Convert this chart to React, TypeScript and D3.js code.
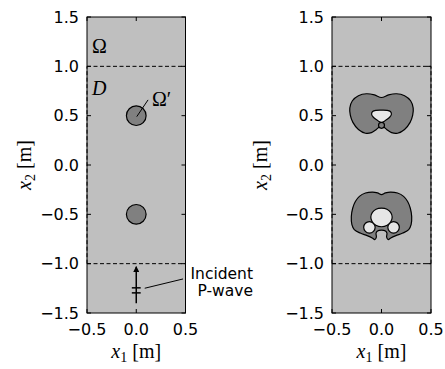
import React from "react";
import * as d3 from "d3";

const W = 445;
const H = 369;

const xTicks = [-0.5, 0.0, 0.5];
const yTicks = [-1.5, -1.0, -0.5, 0.0, 0.5, 1.0, 1.5];
const xDomain: [number, number] = [-0.5, 0.5];
const yDomain: [number, number] = [-1.5, 1.5];
const boundaryY = [-1.0, 1.0];

// left panel: true scatterers (circles)
const circleCenters: [number, number][] = [[0, 0.5], [0, -0.5]];
const circleRadius = 0.1;

// right panel: reconstructed shapes
const upperOuter: [number, number][] = [
  [0, 0.684], [-0.071, 0.710], [-0.152, 0.722], [-0.233, 0.702], [-0.294, 0.651],
  [-0.320, 0.578], [-0.315, 0.505], [-0.289, 0.432], [-0.233, 0.360], [-0.162, 0.322],
  [-0.102, 0.328], [-0.055, 0.358], [-0.022, 0.386], [0, 0.392], [0.022, 0.386],
  [0.055, 0.358], [0.102, 0.328], [0.162, 0.322], [0.233, 0.360], [0.289, 0.432],
  [0.315, 0.505], [0.320, 0.578], [0.294, 0.651], [0.233, 0.702], [0.152, 0.722],
  [0.071, 0.710],
];
const upperHole: [number, number][] = [
  [0, 0.556], [-0.055, 0.554], [-0.090, 0.542], [-0.100, 0.515], [-0.082, 0.484],
  [-0.045, 0.455], [-0.015, 0.435], [0, 0.430], [0.015, 0.435], [0.045, 0.455],
  [0.082, 0.484], [0.100, 0.515], [0.090, 0.542], [0.055, 0.554],
];
const upperDot: [number, number, number] = [0, 0.402, 0.03];

const lowerOuter: [number, number][] = [
  [0, -0.300], [-0.040, -0.283], [-0.090, -0.274], [-0.162, -0.284], [-0.223, -0.318],
  [-0.264, -0.370], [-0.291, -0.438], [-0.305, -0.523], [-0.299, -0.605], [-0.275, -0.655],
  [-0.215, -0.690], [-0.145, -0.716], [-0.094, -0.739], [-0.068, -0.756], [-0.052, -0.730],
  [-0.055, -0.690], [-0.040, -0.668], [0, -0.660], [0.040, -0.668], [0.055, -0.690],
  [0.052, -0.730], [0.068, -0.756], [0.094, -0.739], [0.145, -0.716], [0.215, -0.690],
  [0.275, -0.655], [0.299, -0.605], [0.305, -0.523], [0.291, -0.438], [0.264, -0.370],
  [0.223, -0.318], [0.162, -0.284], [0.090, -0.274], [0.040, -0.283],
];
const lowerHole: [number, number][] = [
  [0, -0.438], [-0.055, -0.448], [-0.092, -0.480], [-0.108, -0.526], [-0.095, -0.572],
  [-0.058, -0.610], [0, -0.626], [0.058, -0.610], [0.095, -0.572], [0.108, -0.526],
  [0.092, -0.480], [0.055, -0.448],
];
const lowerBulbs: [number, number, number][] = [[-0.122, -0.632, 0.058], [0.122, -0.632, 0.058]];

// incident wave annotation
const arrowTail: [number, number] = [0, -1.4];
const arrowTip: [number, number] = [0, -1.03];
const crossbarY = [-1.245, -1.296];
const crossbarHalf = 0.045;
const annotStart: [number, number] = [0.086, -1.249];
const annotEnd: [number, number] = [0.475, -1.155];

const BG = "#bfbfbf";
const DARK = "#808080";
const LIGHT = "#e6e6e6";

const panels = [
  { x0: 87, x1: 185.5, yLabelX: 25 },
  { x0: 332, x1: 431, yLabelX: 261 },
];
const PT = 17;
const PB = 313;

function fmt(v: number) {
  const s = Math.abs(v).toFixed(1);
  return v < 0 ? "\u2212" + s : s;
}

function Panel({ idx }: { idx: number }) {
  const p = panels[idx];
  const x = d3.scaleLinear().domain(xDomain).range([p.x0, p.x1]);
  const y = d3.scaleLinear().domain(yDomain).range([PB, PT]);
  const line = d3
    .line<[number, number]>()
    .x((d) => x(d[0]))
    .y((d) => y(d[1]))
    .curve(d3.curveCatmullRomClosed.alpha(0.5));
  const sx = (v: number) => x(v) - x(0);
  const tickLen = 4;
  const sans = "DejaVu Sans, sans-serif";
  const serif = "Liberation Serif, DejaVu Serif, serif";
  const cx = (p.x0 + p.x1) / 2;
  return (
    <g>
      <rect x={p.x0} y={PT} width={p.x1 - p.x0} height={PB - PT} fill={BG} />
      {boundaryY.map((b) => (
        <line key={b} x1={p.x0} x2={p.x1} y1={y(b)} y2={y(b)} stroke="#000" strokeWidth={1} strokeDasharray="4,2.5" />
      ))}
      {[xDomain[0], xDomain[1]].map((b) => (
        <line key={"v" + b} x1={x(b)} x2={x(b)} y1={y(-1)} y2={y(1)} stroke="#000" strokeWidth={1} strokeDasharray="4,2.5" />
      ))}
      {idx === 0 && (
        <g>
          {circleCenters.map((c, i) => (
            <circle key={i} cx={x(c[0])} cy={y(c[1])} r={sx(circleRadius)} fill={DARK} stroke="#000" strokeWidth={1.2} />
          ))}
          <text x={x(-0.45)} y={y(1.135)} fontFamily={serif} fontSize={20}>Ω</text>
          <text x={x(-0.45)} y={y(0.71)} fontFamily={serif} fontSize={20} fontStyle="italic">D</text>
          <line x1={x(0.005)} y1={y(0.49)} x2={x(0.12)} y2={y(0.66)} stroke="#000" strokeWidth={1} />
          <text x={x(0.16)} y={y(0.6)} fontFamily={serif} fontSize={20}>Ω′</text>
          <defs>
            <marker id="ah" viewBox="0 0 10 10" refX="9" refY="5" markerWidth="9" markerHeight="6" orient="auto" markerUnits="userSpaceOnUse">
              <path d="M0,0 L10,5 L0,10 z" fill="#000" />
            </marker>
          </defs>
          <line x1={x(arrowTail[0])} y1={y(arrowTail[1])} x2={x(arrowTip[0])} y2={y(arrowTip[1])} stroke="#000" strokeWidth={1.5} markerEnd="url(#ah)" />
          {crossbarY.map((cy) => (
            <line key={cy} x1={x(-crossbarHalf)} x2={x(crossbarHalf)} y1={y(cy)} y2={y(cy)} stroke="#000" strokeWidth={1.5} />
          ))}
          <line x1={x(annotStart[0])} y1={y(annotStart[1])} x2={x(annotEnd[0])} y2={y(annotEnd[1])} stroke="#000" strokeWidth={1} />
          <text x={253} y={279} fontFamily={sans} fontSize={15.5} textAnchor="end">Incident</text>
          <text x={253} y={296} fontFamily={sans} fontSize={15.5} textAnchor="end">P-wave</text>
        </g>
      )}
      {idx === 1 && (
        <g>
          <path d={line(upperOuter) || ""} fill={DARK} stroke="#000" strokeWidth={1.2} />
          <path d={line(upperHole) || ""} fill={LIGHT} stroke="#000" strokeWidth={1.2} />
          <circle cx={x(upperDot[0])} cy={y(upperDot[1])} r={sx(upperDot[2])} fill={DARK} stroke="#000" strokeWidth={1.2} />
          <path d={line(lowerOuter) || ""} fill={DARK} stroke="#000" strokeWidth={1.2} />
          {lowerBulbs.map((b, i) => (
            <circle key={i} cx={x(b[0])} cy={y(b[1])} r={sx(b[2])} fill={LIGHT} stroke="#000" strokeWidth={1.2} />
          ))}
          <path d={line(lowerHole) || ""} fill={LIGHT} stroke="#000" strokeWidth={1.2} />
        </g>
      )}
      <rect x={p.x0} y={PT} width={p.x1 - p.x0} height={PB - PT} fill="none" stroke="#000" strokeWidth={1} />
      {yTicks.map((t) => (
        <g key={"y" + t}>
          <line x1={p.x0} x2={p.x0 + tickLen} y1={y(t)} y2={y(t)} stroke="#000" />
          <line x1={p.x1} x2={p.x1 - tickLen} y1={y(t)} y2={y(t)} stroke="#000" />
          <text x={p.x0 - 8} y={y(t)} dy="0.36em" textAnchor="end" fontFamily={sans} fontSize={16}>{fmt(t)}</text>
        </g>
      ))}
      {xTicks.map((t) => (
        <g key={"x" + t}>
          <line x1={x(t)} x2={x(t)} y1={PB} y2={PB - tickLen} stroke="#000" />
          <line x1={x(t)} x2={x(t)} y1={PT} y2={PT + tickLen} stroke="#000" />
          <text x={x(t)} y={PB + 22} textAnchor="middle" fontFamily={sans} fontSize={16}>{fmt(t)}</text>
        </g>
      ))}
      <text x={cx} y={358} textAnchor="middle" fontFamily={serif} fontSize={20}>
        <tspan fontStyle="italic">x</tspan>
        <tspan fontSize={14} dy={4}>1</tspan>
        <tspan dy={-4}> [m]</tspan>
      </text>
      <text transform={`translate(${p.yLabelX + 6},${(PT + PB) / 2}) rotate(-90)`} textAnchor="middle" fontFamily={serif} fontSize={20}>
        <tspan fontStyle="italic">x</tspan>
        <tspan fontSize={14} dy={4}>2</tspan>
        <tspan dy={-4}> [m]</tspan>
      </text>
    </g>
  );
}

export default function App() {
  return (
    <svg width={W} height={H} style={{ position: "absolute", left: 0, top: 0, background: "#fff" }}>
      <Panel idx={0} />
      <Panel idx={1} />
    </svg>
  );
}
